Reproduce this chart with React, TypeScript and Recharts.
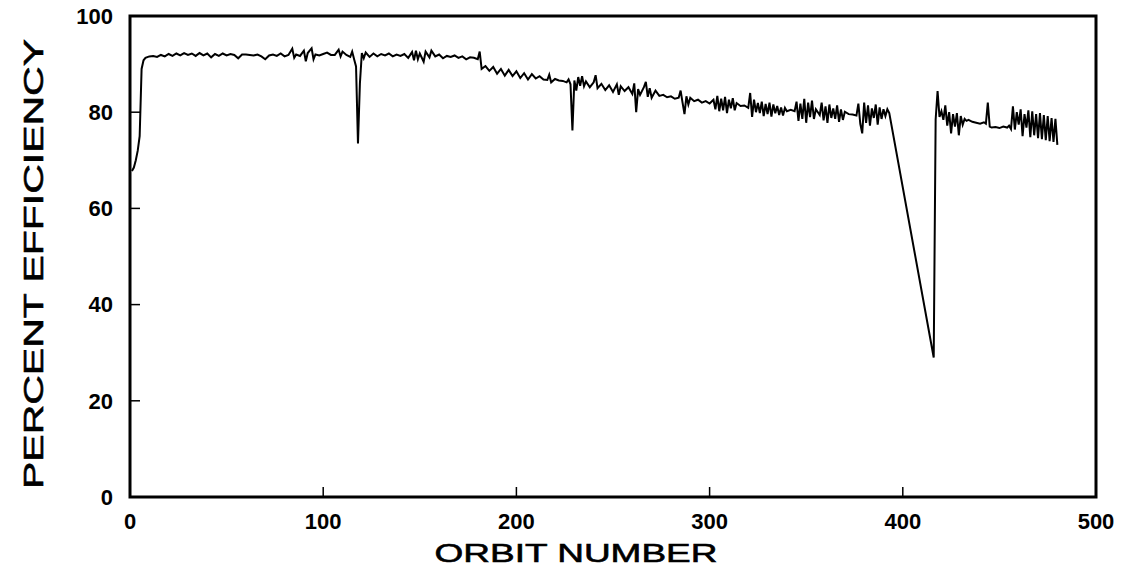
import { LineChart, Line, XAxis, YAxis, ReferenceArea, Label } from "recharts";

// orbit number vs. percent efficiency
const ORBITS = [
  1, 2, 3, 4, 5, 6, 7, 8, 10,
  12, 14, 16, 18, 20, 22, 24, 26, 28, 30, 32, 34, 36, 38, 40, 42, 44, 46, 48, 50,
  52, 54, 56, 58, 60, 62, 64, 66, 68, 70, 72, 74, 76, 78, 80, 82, 84, 85, 86, 88,
  90, 91, 92, 94, 95, 96, 98, 100, 102, 104, 106, 108, 109, 110, 112, 114,
  115, 116, 117, 118, 119, 120,
  121, 122, 124, 126, 128, 130, 132, 134, 136, 138, 140, 142, 144, 146, 147, 148,
  149, 150, 152, 153, 155, 156, 158, 160, 162, 164, 166, 168, 170, 172, 174, 176,
  178, 180, 181, 182,
  184, 186, 188, 190, 192, 194, 196, 198, 200, 202, 204, 206, 208, 210, 212, 214,
  216, 217, 218, 220, 222, 224, 226, 227, 228, 229, 230, 231, 232,
  233, 234, 235, 236, 238, 240, 241, 242, 244, 246, 248, 250, 252, 253, 254, 256,
  258, 260, 261, 262, 263, 264, 266, 267, 268, 269, 270, 272, 274, 276, 278, 280,
  282, 284, 285, 286, 287, 288, 289, 290, 292, 294, 296, 298, 300,
  302, 303, 304, 305, 306, 307, 308, 309, 310, 311, 312, 313, 314, 316, 318, 320,
  321, 322, 323, 324, 325, 326, 327, 328, 329, 330, 331, 332, 333, 334, 335, 336,
  337, 338, 339, 340, 342, 344, 345, 346, 347, 348, 349, 350, 351, 352, 353, 354,
  355, 357, 358, 359, 360, 361, 362, 363, 364, 365, 366, 367, 368, 369, 370, 372,
  374, 376, 377, 378, 379, 380, 381, 382, 383, 384, 385, 386, 387, 388, 389, 390,
  391, 392, 393,
  416, 417, 418, 419, 420, 421, 422, 423, 424, 425, 426, 427, 428, 429, 430, 431,
  432, 433, 434, 436, 438, 440, 442, 443, 444, 445, 446, 448, 450, 452, 454, 455,
  456, 457, 458, 459, 460, 461, 462, 463, 464, 465, 466, 467, 468, 469, 470, 471,
  472, 473, 474, 475, 476, 477, 478, 479, 480,
];

const EFFICIENCY = [
  67.8, 68.5, 70, 72, 75, 89, 90.8, 91.3, 91.6,
  91.7, 91.5, 91.9, 91.6, 92.1, 91.7, 92.2, 91.8, 92.3, 91.9, 92.2, 91.7, 92.3, 91.8, 92.2, 91.4, 92.1, 91.7, 92.2, 91.8,
  92.1, 91.9, 91.2, 92.0, 92.0, 91.9, 91.8, 92.0, 91.6, 91.0, 91.8, 92.0, 91.7, 92.2, 91.6, 91.9, 93.2, 91.3, 92.0, 91.7,
  92.8, 90.6, 92.3, 93.3, 91.0, 92.0, 91.8, 92.1, 92.4, 91.9, 91.9, 93.0, 91.6, 92.6, 91.9, 91.5,
  92.6, 91.0, 89.5, 73.5, 86, 92.3,
  91.2, 92.4, 91.5, 92.2, 91.6, 92.1, 91.8, 92.2, 91.6, 92.0, 91.7, 92.1, 91.3, 92.5, 90.8, 92.8,
  91.0, 92.2, 90.5, 92.6, 91.4, 92.8, 91.6, 92.0, 91.2, 91.7, 91.5, 91.8, 91.3, 91.6, 91.0, 91.4,
  91.3, 91.0, 92.6, 89.0,
  89.6, 88.6, 89.4, 88.0, 89.0, 87.6, 88.8, 87.5, 88.5, 87.1, 88.1, 86.8, 87.9, 87.0, 87.5, 86.8,
  86.7, 87.8, 86.2, 86.9, 86.6, 86.5, 86.2, 86.8, 85.8, 76.2, 86.6, 84.5, 87.3,
  85.5, 87.5, 85.4, 86.4, 85.2, 86.2, 87.7, 85.0, 85.9, 84.6, 85.6, 84.2, 85.8, 83.6, 85.4, 84.4,
  85.2, 83.8, 86.0, 80.0, 84.8, 83.6, 85.2, 86.3, 83.2, 85.0, 83.0, 84.5, 83.4, 83.6, 83.1, 83.3,
  82.8, 83.0, 84.5, 82.0, 79.6, 83.3, 81.6, 83.0, 82.3, 82.6, 82.0, 82.3, 81.8,
  82.6, 80.6, 83.4, 80.2, 82.8, 80.4, 83.2, 79.8, 82.6, 80.8, 82.9, 80.4, 81.9, 81.3, 81.4, 80.9,
  84.0, 79.0, 82.6, 80.0, 81.9, 79.8, 82.2, 79.2, 81.7, 79.6, 82.0, 79.1, 81.6, 79.8, 81.3, 79.4,
  81.0, 79.3, 80.9, 80.2, 80.5, 80.2, 82.2, 78.2, 81.8, 78.6, 82.8, 77.8, 82.0, 79.0, 82.4, 78.6,
  80.6, 79.4, 82.0, 78.3, 81.2, 77.8, 81.6, 78.8, 80.8, 78.6, 81.4, 78.0, 80.6, 78.4, 80.1, 79.6,
  79.5, 79.3, 81.8, 77.6, 75.6, 82.0, 77.8, 81.4, 77.2, 80.8, 78.8, 81.6, 77.4, 81.0, 78.6, 80.6,
  79.2, 80.6, 79.8,
  29.0, 78.5, 84.4, 79.0, 80.2, 78.4, 81.4, 77.2, 80.0, 75.6, 79.6, 77.0, 79.8, 75.2, 79.2, 77.4,
  78.6, 78.2, 78.4, 78.0, 77.8, 77.6, 77.9, 77.6, 82.0, 77.0, 76.8, 76.9, 76.7, 77.0, 76.8, 77.2,
  76.5, 81.2, 76.4, 80.0, 77.4, 80.6, 75.0, 79.6, 76.8, 80.4, 74.8, 80.2, 75.2, 79.6, 74.6, 79.8,
  74.4, 79.4, 74.2, 79.2, 74.0, 78.8, 73.8, 78.6, 73.2,
];

const X_TICKS = [0, 100, 200, 300, 400, 500];
const Y_TICKS = [0, 20, 40, 60, 80, 100];

const data = ORBITS.map((orbit, i) => ({ orbit, eff: EFFICIENCY[i] }));

const FONT = "'Liberation Sans', Arial, Helvetica, sans-serif";

const tickStyle = { fontFamily: FONT, fontSize: 22, fontWeight: 700, fill: "#000" };

function XTitle() {
  return (
    <text
      x={576}
      y={562}
      textAnchor="middle"
      fontFamily={FONT}
      fontSize={26}
      fill="#000"
      stroke="#000"
      strokeWidth={0.6}
      textLength={283}
      lengthAdjust="spacingAndGlyphs"
    >
      ORBIT NUMBER
    </text>
  );
}

function YTitle() {
  return (
    <text
      x={0}
      y={0}
      transform="translate(43, 264) rotate(-90)"
      textAnchor="middle"
      fontFamily={FONT}
      fontSize={28}
      fill="#000"
      stroke="#000"
      strokeWidth={0.6}
      textLength={450}
      lengthAdjust="spacingAndGlyphs"
    >
      PERCENT EFFICIENCY
    </text>
  );
}

export default function App() {
  return (
    <div style={{ position: "absolute", left: 0, top: 0, width: 1124, height: 573, background: "#fff" }}>
      <LineChart width={1124} height={573} data={data} margin={{ top: 16, right: 28, bottom: 0, left: 0 }}>
        <XAxis
          dataKey="orbit"
          type="number"
          domain={[0, 500]}
          ticks={X_TICKS}
          interval={0}
          height={76}
          axisLine={false}
          tickLine={{ stroke: "#000", strokeWidth: 1.5 }}
          tickSize={-10}
          tickMargin={26}
          tick={tickStyle}
        >
          <Label content={XTitle} />
        </XAxis>
        <YAxis
          type="number"
          domain={[0, 100]}
          ticks={Y_TICKS}
          interval={0}
          width={130}
          axisLine={false}
          tickLine={{ stroke: "#000", strokeWidth: 1.5 }}
          tickSize={-10}
          tickMargin={27}
          tick={tickStyle}
        >
          <Label content={YTitle} />
        </YAxis>
        <ReferenceArea
          x1={0}
          x2={500}
          y1={0}
          y2={100}
          fill="none"
          fillOpacity={0}
          stroke="#000"
          strokeWidth={3}
          strokeOpacity={1}
          ifOverflow="visible"
        />
        <Line
          type="linear"
          dataKey="eff"
          stroke="#000"
          strokeWidth={2}
          dot={false}
          isAnimationActive={false}
        />
      </LineChart>
    </div>
  );
}
